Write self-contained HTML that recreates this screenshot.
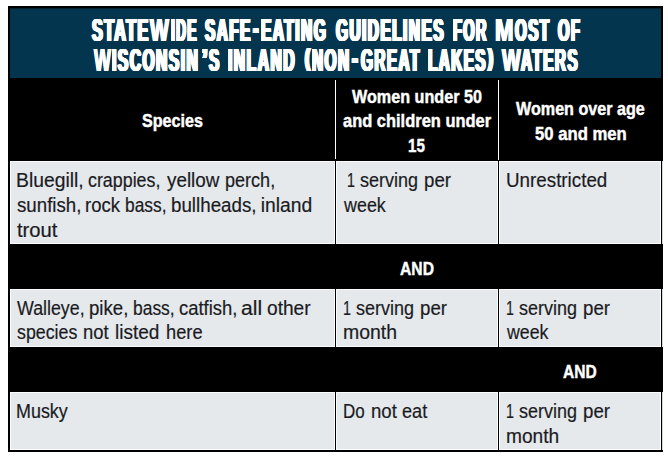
<!DOCTYPE html>
<html><head><meta charset="utf-8"><title>Safe-eating guidelines</title>
<style>
html,body{margin:0;padding:0;background:#fff;}
body{width:668px;height:457px;position:relative;overflow:hidden;font-family:"Liberation Sans",sans-serif;}
.b{position:absolute;}
.t{position:absolute;white-space:nowrap;transform-origin:0 0;font-family:"Liberation Sans",sans-serif;}
.ti{font-size:31.5px;line-height:31.5px;font-weight:bold;color:#fff;letter-spacing:3px;text-shadow:0.5px 0 #fff,-0.5px 0 #fff,1px 0 #fff,-1px 0 #fff,1.5px 0 #fff,-1.5px 0 #fff,2px 0 #fff,-2px 0 #fff;}
.tw{font-size:31.5px;line-height:31.5px;font-weight:bold;color:#fff;text-shadow:0.5px 0 #fff,-0.5px 0 #fff,1px 0 #fff,-1px 0 #fff;}
.th{font-size:38.0px;line-height:38.0px;font-weight:bold;color:#fff;letter-spacing:3px;text-shadow:0.5px 0 #fff,-0.5px 0 #fff,1px 0 #fff,-1px 0 #fff,1.5px 0 #fff,-1.5px 0 #fff,2px 0 #fff,-2px 0 #fff;}
.tp{font-size:23.0px;line-height:23.0px;font-weight:bold;color:#fff;letter-spacing:3px;text-shadow:0.5px 0 #fff,-0.5px 0 #fff,1px 0 #fff,-1px 0 #fff,1.5px 0 #fff,-1.5px 0 #fff,2px 0 #fff,-2px 0 #fff;}
.hd{font-size:18.6px;line-height:18.6px;font-weight:bold;color:#fff;-webkit-text-stroke:0.45px #fff;}
.bd{font-size:19.3px;line-height:19.3px;font-weight:normal;color:#1b1b1f;-webkit-text-stroke:0.2px #1b1b1f;}
.g{background:#e5e9ec;box-shadow:inset 0 0 0 1px #fbfcfd}
</style></head><body>
<div class="b" style="left:8px;top:6px;width:655px;height:446px;background:#000"></div>
<div class="b" style="left:10px;top:8px;width:651px;height:70px;background:#03354f"></div>
<div class="b" style="left:10px;top:8px;width:651px;height:1px;background:#021f30"></div>
<div class="b" style="left:335px;top:80px;width:1.3px;height:79px;background:#fff"></div>
<div class="b" style="left:498px;top:80px;width:1.3px;height:80px;background:#fff"></div>
<div class="b g" style="left:10px;top:161px;width:325px;height:83px"></div>
<div class="b g" style="left:336px;top:161px;width:162px;height:83px"></div>
<div class="b g" style="left:499px;top:161px;width:162px;height:83px"></div>
<div class="b g" style="left:10px;top:289px;width:325px;height:58px"></div>
<div class="b g" style="left:336px;top:289px;width:162px;height:58px"></div>
<div class="b g" style="left:499px;top:289px;width:162px;height:58px"></div>
<div class="b g" style="left:10px;top:392px;width:325px;height:58px"></div>
<div class="b g" style="left:336px;top:392px;width:162px;height:58px"></div>
<div class="b g" style="left:499px;top:392px;width:162px;height:58px"></div>
<div class="b" style="left:662px;top:161px;width:1px;height:83px;background:#d8d8d8"></div>
<div class="b" style="left:662px;top:289px;width:1px;height:58px;background:#d8d8d8"></div>
<div class="b" style="left:662px;top:392px;width:1px;height:58px;background:#d8d8d8"></div>
<span class="t ti" style="left:91.81px;top:15px;transform:scaleX(0.5087)">STATE</span>
<span class="t tw" style="left:150.13px;top:15px;transform:scaleX(0.6331)">W</span>
<span class="t ti" style="left:171.20px;top:15px;transform:scaleX(0.4338)">IDE</span>
<span class="t ti" style="left:205.49px;top:15px;transform:scaleX(0.4865)">SAFE</span>
<span class="t th" style="left:253.42px;top:9px;transform:scaleX(0.4364)">-</span>
<span class="t ti" style="left:261.30px;top:15px;transform:scaleX(0.4926)">EATING</span>
<span class="t ti" style="left:336.07px;top:15px;transform:scaleX(0.4896)">GUIDELINES</span>
<span class="t ti" style="left:452.80px;top:15px;transform:scaleX(0.4610)">FOR</span>
<span class="t tw" style="left:494.80px;top:15px;transform:scaleX(0.7010)">M</span>
<span class="t ti" style="left:515.06px;top:15px;transform:scaleX(0.4792)">OST</span>
<span class="t ti" style="left:558.05px;top:15px;transform:scaleX(0.4684)">OF</span>
<span class="t tw" style="left:93.57px;top:45px;transform:scaleX(0.5669)">W</span>
<span class="t ti" style="left:112.00px;top:45px;transform:scaleX(0.4954)">ISCONSIN</span>
<span class="t ti" style="left:201.74px;top:45px;transform:scaleX(0.6303)">’</span>
<span class="t ti" style="left:208.68px;top:45px;transform:scaleX(0.4835)">S</span>
<span class="t ti" style="left:228.00px;top:45px;transform:scaleX(0.4965)">INLAND</span>
<span class="t tp" style="left:304.80px;top:47px;transform:scaleX(0.6634)">(</span>
<span class="t ti" style="left:312.20px;top:45px;transform:scaleX(0.4871)">NON</span>
<span class="t th" style="left:351.63px;top:39px;transform:scaleX(0.4582)">-</span>
<span class="t ti" style="left:360.76px;top:45px;transform:scaleX(0.4859)">GREAT</span>
<span class="t ti" style="left:428.00px;top:45px;transform:scaleX(0.4837)">LAKES</span>
<span class="t tp" style="left:488.20px;top:47px;transform:scaleX(0.6476)">)</span>
<span class="t tw" style="left:502.03px;top:45px;transform:scaleX(0.6268)">W</span>
<span class="t ti" style="left:521.21px;top:45px;transform:scaleX(0.4861)">ATERS</span>
<span class="t hd" style="left:141.68px;top:112px;transform:scaleX(0.8662)">Species</span>
<span class="t hd" style="left:351.82px;top:88px;transform:scaleX(0.8690)">Women under 50</span>
<span class="t hd" style="left:343.18px;top:112px;transform:scaleX(0.8850)">and children under</span>
<span class="t hd" style="left:408.38px;top:137px;transform:scaleX(0.8156)">15</span>
<span class="t hd" style="left:515.92px;top:100px;transform:scaleX(0.8675)">Women over age</span>
<span class="t hd" style="left:534.58px;top:125px;transform:scaleX(0.8970)">50 and men</span>
<span class="t hd" style="left:399.79px;top:260px;transform:scaleX(0.8430)">AND</span>
<span class="t hd" style="left:563.09px;top:363px;transform:scaleX(0.8354)">AND</span>
<span class="t bd" style="left:16.45px;top:171px;transform:scaleX(1.0023)">Bluegill,</span>
<span class="t bd" style="left:88.31px;top:171px;transform:scaleX(0.9254)">crappies,</span>
<span class="t bd" style="left:166.70px;top:171px;transform:scaleX(0.9786)">yellow</span>
<span class="t bd" style="left:225.33px;top:171px;transform:scaleX(0.9360)">perch,</span>
<span class="t bd" style="left:16.82px;top:196px;transform:scaleX(0.9696)">sunfish,</span>
<span class="t bd" style="left:85.00px;top:196px;transform:scaleX(0.9589)">rock</span>
<span class="t bd" style="left:124.88px;top:196px;transform:scaleX(0.8994)">bass,</span>
<span class="t bd" style="left:170.88px;top:196px;transform:scaleX(0.9729)">bullheads,</span>
<span class="t bd" style="left:260.75px;top:196px;transform:scaleX(1.0000)">inland</span>
<span class="t bd" style="left:16.74px;top:221px;transform:scaleX(1.0484)">trout</span>
<span class="t bd" style="left:346.78px;top:171px;transform:scaleX(0.7371)">1</span>
<span class="t bd" style="left:360.38px;top:171px;transform:scaleX(0.9339)">serving</span>
<span class="t bd" style="left:423.74px;top:171px;transform:scaleX(0.9698)">per</span>
<span class="t bd" style="left:343.50px;top:196px;transform:scaleX(0.9289)">week</span>
<span class="t bd" style="left:506.04px;top:171px;transform:scaleX(0.9748)">Unrestricted</span>
<span class="t bd" style="left:17.20px;top:299px;transform:scaleX(0.9231)">Walleye,</span>
<span class="t bd" style="left:89.09px;top:299px;transform:scaleX(0.9669)">pike,</span>
<span class="t bd" style="left:132.87px;top:299px;transform:scaleX(0.9040)">bass,</span>
<span class="t bd" style="left:179.08px;top:299px;transform:scaleX(0.9566)">catfish,</span>
<span class="t bd" style="left:241.18px;top:299px;transform:scaleX(1.0957)">all</span>
<span class="t bd" style="left:267.06px;top:299px;transform:scaleX(0.9930)">other</span>
<span class="t bd" style="left:17.14px;top:323px;transform:scaleX(0.9230)">species</span>
<span class="t bd" style="left:83.20px;top:323px;transform:scaleX(0.9569)">not</span>
<span class="t bd" style="left:115.47px;top:323px;transform:scaleX(0.9871)">listed</span>
<span class="t bd" style="left:165.82px;top:323px;transform:scaleX(0.9479)">here</span>
<span class="t bd" style="left:342.83px;top:299px;transform:scaleX(0.7371)">1</span>
<span class="t bd" style="left:356.43px;top:299px;transform:scaleX(0.9339)">serving</span>
<span class="t bd" style="left:419.79px;top:299px;transform:scaleX(0.9698)">per</span>
<span class="t bd" style="left:342.64px;top:323px;transform:scaleX(1.0088)">month</span>
<span class="t bd" style="left:505.58px;top:299px;transform:scaleX(0.7371)">1</span>
<span class="t bd" style="left:519.18px;top:299px;transform:scaleX(0.9339)">serving</span>
<span class="t bd" style="left:582.54px;top:299px;transform:scaleX(0.9698)">per</span>
<span class="t bd" style="left:506.50px;top:323px;transform:scaleX(0.9222)">week</span>
<span class="t bd" style="left:16.21px;top:402px;transform:scaleX(0.9290)">Musky</span>
<span class="t bd" style="left:343.48px;top:402px;transform:scaleX(0.8800)">Do</span>
<span class="t bd" style="left:370.59px;top:402px;transform:scaleX(0.9647)">not</span>
<span class="t bd" style="left:402.29px;top:402px;transform:scaleX(0.9423)">eat</span>
<span class="t bd" style="left:505.88px;top:402px;transform:scaleX(0.7371)">1</span>
<span class="t bd" style="left:519.48px;top:402px;transform:scaleX(0.9339)">serving</span>
<span class="t bd" style="left:582.84px;top:402px;transform:scaleX(0.9698)">per</span>
<span class="t bd" style="left:506.16px;top:427px;transform:scaleX(0.9932)">month</span>
</body></html>
